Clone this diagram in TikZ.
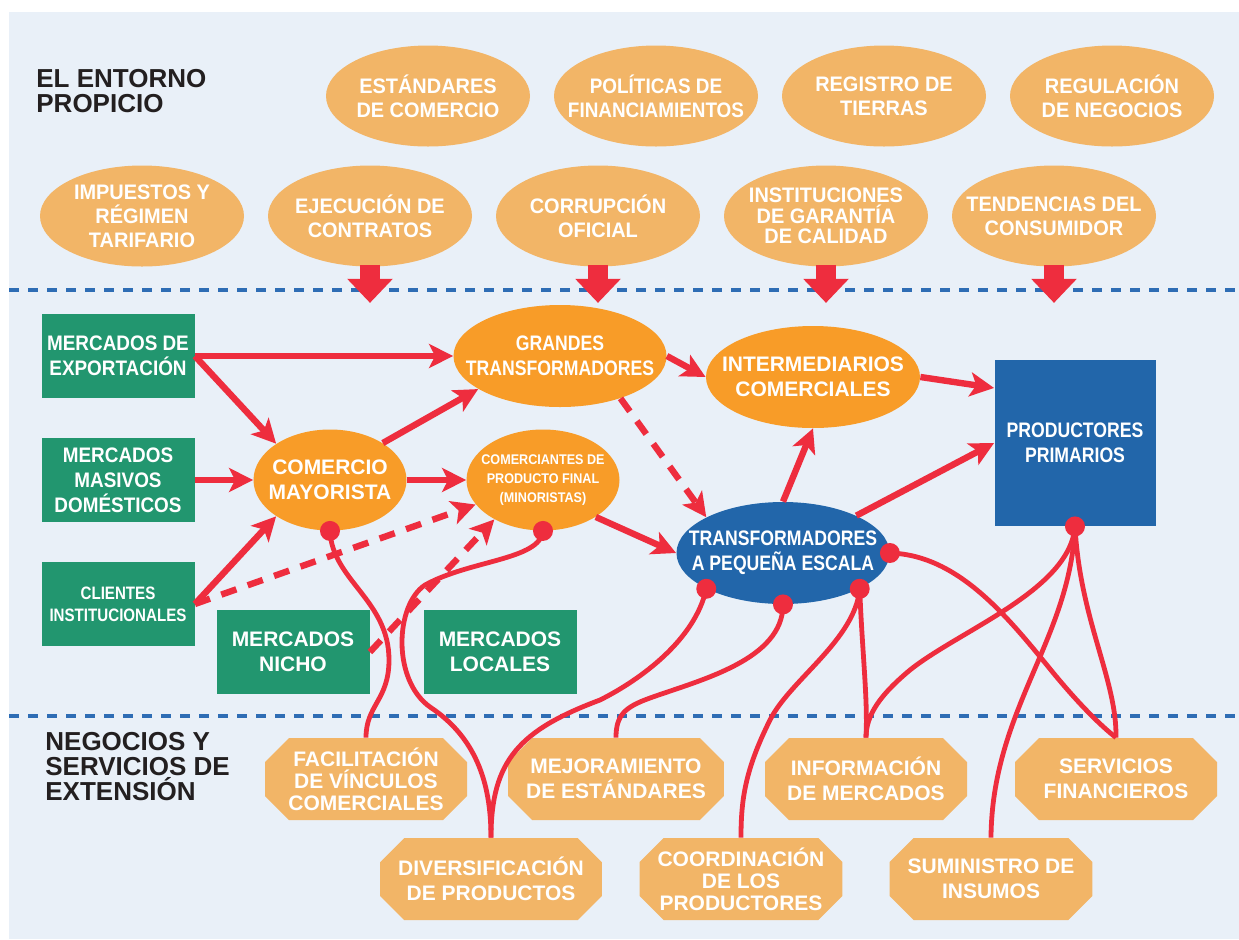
\documentclass[tikz,border=0pt]{standalone}
\usepackage{fontspec}
\setmainfont{Liberation Sans}
\newfontfamily\strettofont{Liberation Sans}[FakeStretch=0.84]
\newfontfamily\mediofont{Liberation Sans}[FakeStretch=0.9]
\newfontfamily\largofont{Liberation Sans}[FakeStretch=0.95]
\usetikzlibrary{shapes.geometric,shapes.misc,arrows.meta,calc}

\definecolor{sfondo}{HTML}{E9F0F8}
\definecolor{arancio}{HTML}{F2B567}
\definecolor{arancioforte}{HTML}{F89C28}
\definecolor{verde}{HTML}{22966F}
\definecolor{blu}{HTML}{2266AA}
\definecolor{rosso}{HTML}{EE2D3E}
\definecolor{tratteggio}{HTML}{2E6DB5}
\definecolor{titolo}{HTML}{231F20}

\begin{document}
\begin{tikzpicture}[x=0.5pt, y=-0.5pt,
    ambiente/.style={ellipse, fill=arancio, text=white, minimum width=102pt, minimum height=50.5pt,
        inner xsep=-14pt, inner ysep=0pt, align=center, font=\largofont\fontsize{10.5}{12}\selectfont\bfseries},
    mercato/.style={rectangle, fill=verde, text=white, minimum width=76.5pt, minimum height=42pt,
        inner sep=0pt, align=center, font=\mediofont\fontsize{10.5}{12.5}\selectfont\bfseries},
    attore/.style={ellipse, fill=arancioforte, text=white, minimum width=106.5pt, minimum height=51pt,
        inner xsep=-14pt, inner ysep=0pt, align=center, font=\fontsize{10.5}{12.5}\selectfont\bfseries},
    servizio/.style={chamfered rectangle, chamfered rectangle xsep=9pt, chamfered rectangle ysep=3pt,
        fill=arancio, text=white, minimum width=101pt, minimum height=41pt, inner sep=0pt,
        align=center, font=\fontsize{10.5}{12.5}\selectfont\bfseries},
    titoletto/.style={anchor=north west, inner sep=0pt, align=left, text=titolo,
        font=\fontsize{13}{12.5}\selectfont\bfseries},
    freccia/.style={draw=rosso, line width=3.2pt, -{Stealth[length=12pt, width=12pt, inset=3pt]}},
    tratteggiata/.style={freccia, dash pattern=on 8pt off 6pt},
    legame/.style={draw=rosso, line width=2.4pt},
    pallino/.style={fill=rosso},
    freccione/.style={draw=rosso, line width=10pt, -{Triangle[length=12pt, width=22pt]}},
    separatore/.style={draw=tratteggio, line width=2pt, dash pattern=on 5pt off 4.5pt}
]

    % Sfondo
    \useasboundingbox (0,0) rectangle (1239,939);
    \fill[sfondo] (9,12) rectangle (1239,939);
    \draw[separatore] (9,290) -- (1239,290);
    \draw[separatore] (9,716) -- (1239,716);

    % Ambiente
    \node[titoletto] (entorno) at (36,69) {EL ENTORNO\\PROPICIO};
    \node[ambiente] (estandares) at (428,96) {ESTÁNDARES\\DE COMERCIO};
    \node[ambiente, font=\mediofont\fontsize{10.5}{12}\selectfont\bfseries] (politicas) at (656,96)
        {POLÍTICAS DE\\FINANCIAMIENTOS};
    \node[ambiente] (registro) at (884,96) {REGISTRO DE\\TIERRAS};
    \node[ambiente] (regulacion) at (1112,96) {REGULACIÓN\\DE NEGOCIOS};
    \node[ambiente] (impuestos) at (142,216) {IMPUESTOS Y\\RÉGIMEN\\TARIFARIO};
    \node[ambiente] (ejecucion) at (370,216) {EJECUCIÓN DE\\CONTRATOS};
    \node[ambiente] (corrupcion) at (598,216) {CORRUPCIÓN\\OFICIAL};
    \node[ambiente, font=\largofont\fontsize{10.5}{10.3}\selectfont\bfseries] (instituciones) at (826,216)
        {INSTITUCIONES\\DE GARANTÍA\\DE CALIDAD};
    \node[ambiente] (tendencias) at (1054,216) {TENDENCIAS DEL\\CONSUMIDOR};

    \foreach \e in {ejecucion, corrupcion, instituciones, tendencias}
        \draw[freccione] ([yshift=1pt]\e.south) -- ++(0,38);

    % Mercati e attori
    \node[mercato] (exportacion) at (118,356) {MERCADOS DE\\EXPORTACIÓN};
    \node[mercato] (masivos) at (118,480) {MERCADOS\\MASIVOS\\DOMÉSTICOS};
    \node[mercato, font=\strettofont\fontsize{9}{11}\selectfont\bfseries] (clientes) at (118,604)
        {CLIENTES\\INSTITUCIONALES};
    \node[mercato, font=\fontsize{10.5}{12.5}\selectfont\bfseries] (nicho) at (293,652) {MERCADOS\\NICHO};
    \node[mercato, font=\fontsize{10.5}{12.5}\selectfont\bfseries] (locales) at (500,652) {MERCADOS\\LOCALES};

    \node[attore, font=\strettofont\fontsize{10.5}{12.5}\selectfont\bfseries] (grandes) at (560,356)
        {GRANDES\\TRANSFORMADORES};
    \node[attore, minimum width=76.5pt, minimum height=50.5pt] (mayorista) at (330,480) {COMERCIO\\MAYORISTA};
    \node[attore, minimum width=76.5pt, minimum height=50.5pt,
        font=\mediofont\fontsize{7}{9.5}\selectfont\bfseries] (minoristas) at (543,480)
        {COMERCIANTES DE\\PRODUCTO FINAL\\(MINORISTAS)};
    \node[attore, minimum width=107pt] (intermediarios) at (813,377) {INTERMEDIARIOS\\COMERCIALES};
    \node[attore, fill=blu, font=\strettofont\fontsize{10.5}{12.5}\selectfont\bfseries] (pequena) at (783,553)
        {TRANSFORMADORES\\A PEQUEÑA ESCALA};
    \node[rectangle, fill=blu, text=white, minimum width=80.5pt, minimum height=83pt, inner sep=0pt,
        align=center, font=\strettofont\fontsize{10.5}{12.5}\selectfont\bfseries] (productores) at (1075,443)
        {PRODUCTORES\\PRIMARIOS};

    % Servizi
    \node[titoletto] (negocios) at (45,732) {NEGOCIOS Y\\SERVICIOS DE\\EXTENSIÓN};
    \node[servizio, font=\fontsize{10.5}{11}\selectfont\bfseries] (facilitacion) at (366,779)
        {FACILITACIÓN\\DE VÍNCULOS\\COMERCIALES};
    \node[servizio] (mejoramiento) at (616,779) {MEJORAMIENTO\\DE ESTÁNDARES};
    \node[servizio] (informacion) at (866,779) {INFORMACIÓN\\DE MERCADOS};
    \node[servizio] (servicios) at (1116,779) {SERVICIOS\\FINANCIEROS};
    \node[servizio] (diversificacion) at (491,879) {DIVERSIFICACIÓN\\DE PRODUCTOS};
    \node[servizio, font=\fontsize{10.5}{11}\selectfont\bfseries] (coordinacion) at (741,879)
        {COORDINACIÓN\\DE LOS\\PRODUCTORES};
    \node[servizio] (suministro) at (991,879) {SUMINISTRO DE\\INSUMOS};

    % Legami
    \draw[legame] (mayorista.south) .. controls (332,580) and (389,600) .. (389,660)
        .. controls (389,700) and (366,705) .. (facilitacion.north);
    \draw[legame] (minoristas.south) .. controls (540,560) and (470,560) .. (425,585)
        .. controls (395,605) and (392,680) .. (430,707)
        .. controls (480,740) and (491,790) .. (diversificacion.north);
    \draw[legame] (pequena.205) .. controls (695,640) and (640,680) .. (600,700)
        .. controls (520,730) and (491,760) .. (diversificacion.north);
    \draw[legame] (pequena.south) .. controls (783,660) and (700,680) .. (650,698)
        .. controls (625,707) and (616,715) .. (mejoramiento.north);
    \draw[legame] (pequena.-25) .. controls (855,640) and (790,680) .. (770,720)
        .. controls (745,770) and (741,800) .. (coordinacion.north);
    \draw[legame] (pequena.-25) .. controls (862,650) and (868,700) .. (informacion.north);
    \draw[legame] (pequena.east) .. controls (960,555) and (1010,620) .. (1055,675)
        .. controls (1080,705) and (1100,725) .. (servicios.north);
    \draw[legame] (productores.south) .. controls (1070,590) and (960,630) .. (910,670)
        .. controls (880,695) and (866,715) .. (informacion.north);
    \draw[legame] (productores.south) .. controls (1070,640) and (992,710) .. (suministro.north);
    \draw[legame] (productores.south) .. controls (1080,620) and (1117,680) .. (servicios.north);

    \foreach \p in {mayorista.south, minoristas.south, pequena.205, pequena.south, pequena.-25,
        pequena.east, productores.south}
        \fill[pallino] (\p) circle (5pt);

    % Frecce
    \draw[freccia] (exportacion.east) -- (grandes.west);
    \draw[freccia] (exportacion.east) -- (mayorista.146);
    \draw[freccia] (masivos.east) -- (mayorista.west);
    \draw[freccia] (clientes.east) -- (mayorista.214);
    \draw[tratteggiata] (clientes.east) -- (minoristas.200);
    \draw[freccia] (mayorista.35) -- (grandes.202);
    \draw[freccia] (mayorista.east) -- (minoristas.west);
    \draw[tratteggiata] (nicho.east) -- (minoristas.219);
    \draw[freccia] (grandes.east) -- (intermediarios.west);
    \draw[tratteggiata] (grandes.325) -- (pequena.155);
    \draw[freccia] (minoristas.-35) -- (pequena.west);
    \draw[freccia] (pequena.north) -- (intermediarios.south);
    \draw[freccia] (pequena.27) -- (productores.west);
    \draw[freccia] (intermediarios.east) -- ($(productores.north west)!0.17!(productores.south west)$);

\end{tikzpicture}
\end{document}
